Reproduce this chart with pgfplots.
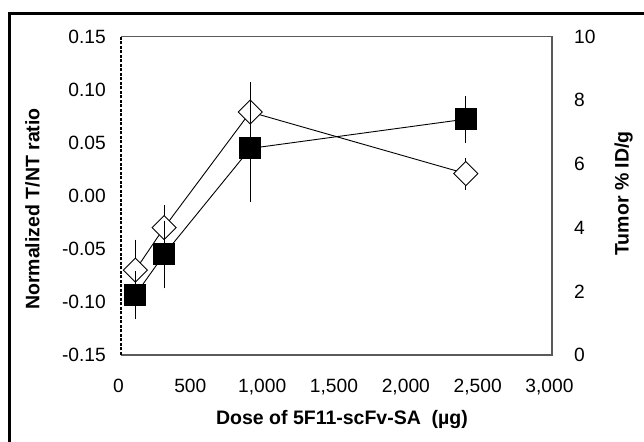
\documentclass[border=0pt]{standalone}
\usepackage{fontspec}
\setmainfont{Liberation Sans}
\usepackage{pgfplots}
\pgfplotsset{compat=1.18}
\definecolor{axgray}{RGB}{90,90,90}
\newcommand{\tl}{\fontsize{19.2}{22}\selectfont}
\begin{document}
\begin{tikzpicture}[x=1pt,y=1pt]
\useasboundingbox (0,0) rectangle (644,441);
\draw[line width=2.6pt] (9.7,-5) -- (9.7,427.2) -- (650,427.2);
\pgfplotsset{
  common/.style={
    at={(121pt,86pt)}, anchor=south west,
    width=431pt, height=318.3pt, scale only axis,
    xmin=0, xmax=3000,
    axis line style={draw=none},
    major tick length=0pt,
    clip=false,
  }
}
\begin{axis}[common,
  ymin=-0.15, ymax=0.15,
  ytick={-0.15,-0.10,-0.05,0,0.05,0.10,0.15},
  yticklabels={{\tl -0.15},{\tl -0.10},{\tl -0.05},{\tl 0.00},{\tl 0.05},{\tl 0.10},{\tl 0.15}},
  yticklabel style={inner sep=0pt, xshift=-15pt},
  xtick={0,500,1000,1500,2000,2500,3000},
  xticklabels={{\tl 0},{\tl 500},{\tl 1,000},{\tl 1,500},{\tl 2,000},{\tl 2,500},{\tl 3,000}},
  xticklabel style={inner sep=0pt, yshift=-24pt, xshift=-2.5pt},
  axis x line*=bottom, axis y line*=left,
]
\addplot[black, line width=0.9pt, mark=square*, mark size=8.5pt,
  mark options={rotate=45, fill=white, draw=black, line width=0.9pt},
  error bars/.cd, y dir=both, y explicit,
  error mark=-, error mark options={black, mark size=6.5pt, line width=0.9pt},
  error bar style={black, line width=0.9pt}]
  coordinates {
  (100,-0.070) +- (0,0.0226)
  (300,-0.030) +- (0,0.0151)
  (900,0.079) +- (0,0.022)
  (2400,0.021) +- (0,0.009)
  };
\end{axis}
\begin{axis}[common,
  ymin=0, ymax=10,
  ytick={0,2,4,6,8,10},
  yticklabels={{\tl 0},{\tl 2},{\tl 4},{\tl 6},{\tl 8},{\tl 10}},
  yticklabel style={inner sep=0pt, xshift=22pt},
  axis x line=none, axis y line*=right,
]
\addplot[black, line width=0.9pt, mark=square*, mark size=10.5pt,
  mark options={fill=black, draw=black},
  error bars/.cd, y dir=both, y explicit,
  error mark=-, error mark options={black, mark size=6.5pt, line width=0.9pt},
  error bar style={black, line width=0.9pt}]
  coordinates {
  (100,1.89) +- (0,0.55)
  (300,3.16) +- (0,0.86)
  (900,6.49) +- (0,1.49)
  (2400,7.41) +- (0,0.53)
  };
\end{axis}
\draw[axgray, line width=1.2pt] (121,404.3) -- (552,404.3) -- (552,86) -- (121,86);
\draw[black, line width=1.2pt, dash pattern=on 3pt off 1.5pt] (121,86) -- (121,404.3);
\node[rotate=90, font=\bfseries\fontsize{19.5}{23}\selectfont] at (32.5,232) {Normalized T/NT ratio};
\node[rotate=90, font=\bfseries\fontsize{19.5}{23}\selectfont] at (623.5,247.5) {Tumor \% ID/g};
\node[font=\bfseries\fontsize{19.5}{23}\selectfont] at (342,21) {Dose of 5F11-scFv-SA\ \ (µg)};
\end{tikzpicture}
\end{document}
